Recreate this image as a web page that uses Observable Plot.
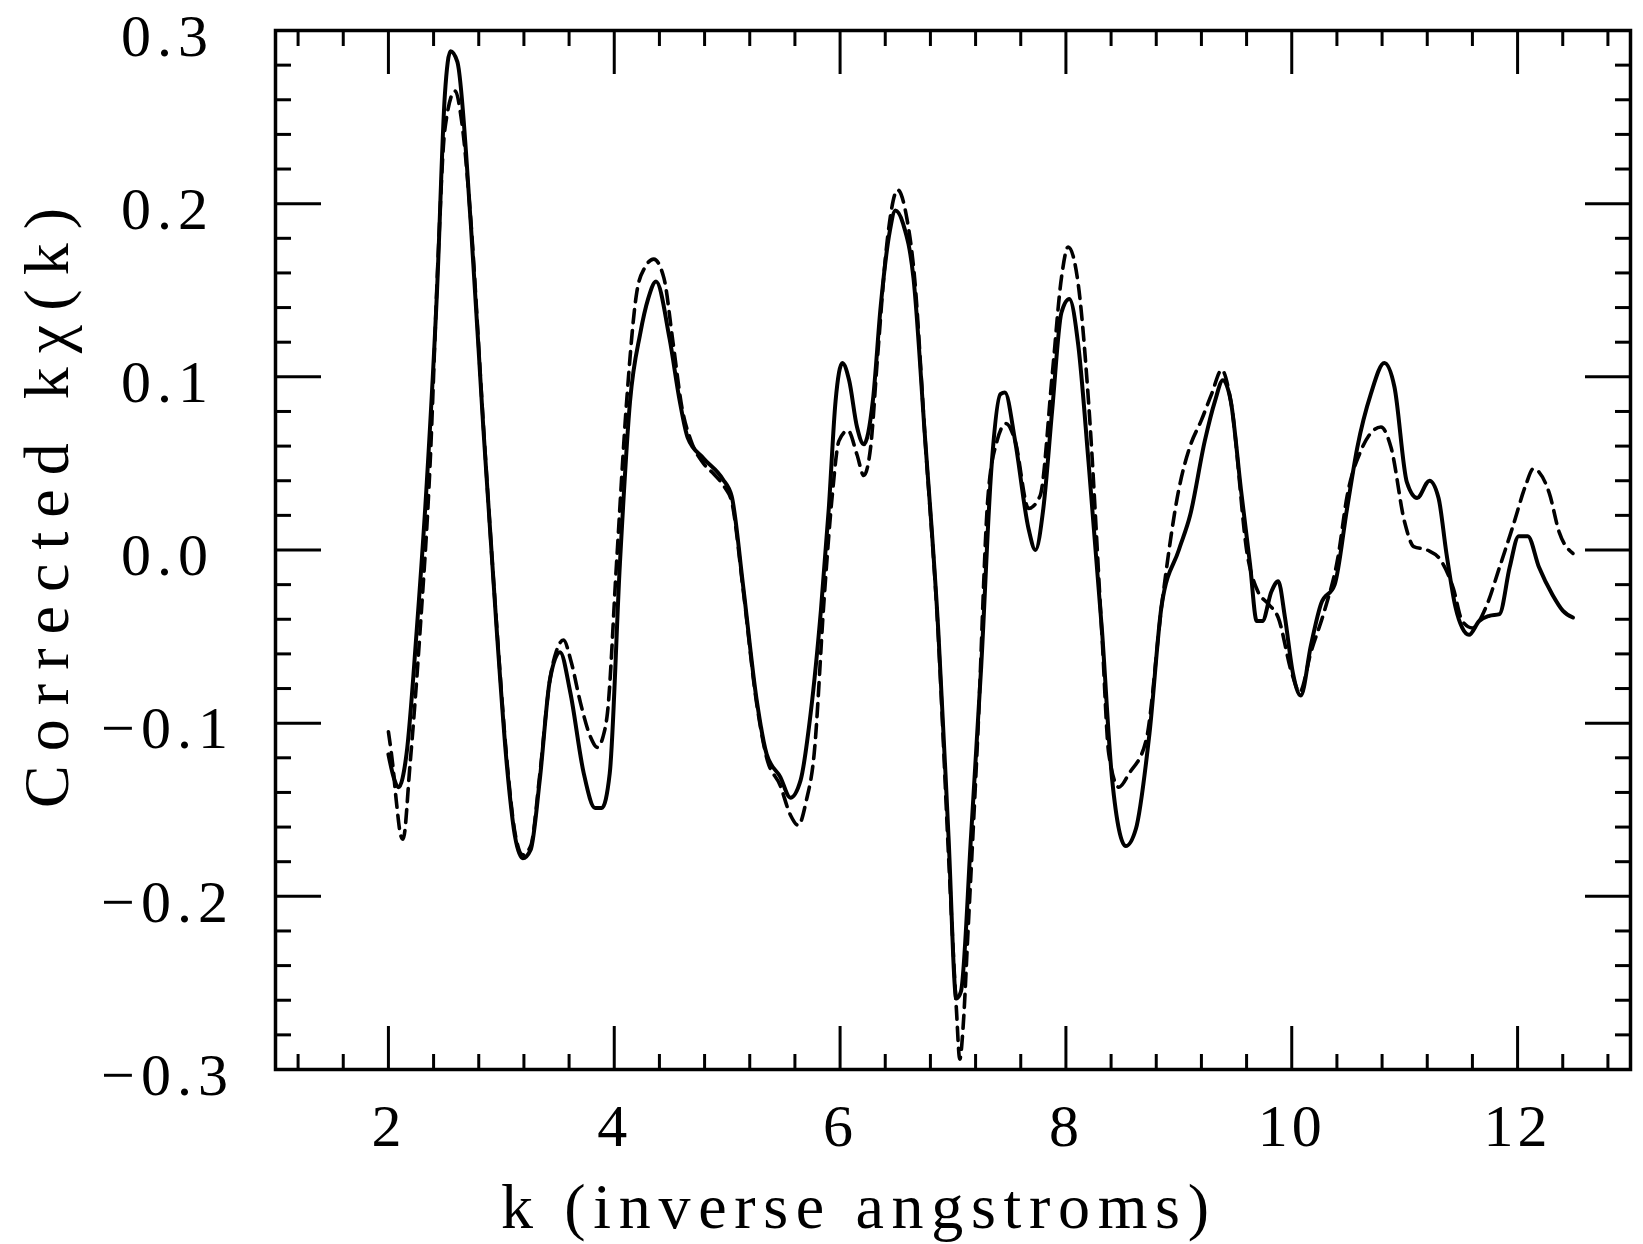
<!DOCTYPE html>
<html><head><meta charset="utf-8">
<script src="https://cdn.jsdelivr.net/npm/d3@7"></script>
<script src="https://cdn.jsdelivr.net/npm/@observablehq/plot@0.6"></script>
<style>body{margin:0;background:#fff} svg{display:block}</style>
</head><body><div id="chart"></div>
<script>
// ---- data ----
const kSolid = [2.00,2.05,2.09,2.16,2.25,2.34,2.43,2.50,2.55,2.61,2.73,2.84,2.96,3.05,3.12,3.19,3.26,3.34,3.43,3.52,3.61,3.73,3.83,3.89,3.96,4.05,4.14,4.23,4.30,4.37,4.49,4.58,4.65,4.79,4.96,5.04,5.14,5.26,5.35,5.47,5.56,5.65,5.74,5.83,5.90,5.96,6.02,6.08,6.15,6.21,6.29,6.36,6.44,6.49,6.56,6.65,6.75,6.87,6.96,7.03,7.07,7.16,7.25,7.34,7.42,7.46,7.55,7.67,7.73,7.80,7.88,7.96,8.03,8.11,8.20,8.32,8.41,8.53,8.62,8.74,8.85,9.00,9.10,9.23,9.32,9.39,9.46,9.55,9.63,9.69,9.74,9.82,9.88,9.94,10.01,10.08,10.17,10.26,10.38,10.49,10.58,10.70,10.82,10.91,11.02,11.11,11.22,11.30,11.37,11.45,11.51,11.57,11.66,11.75,11.84,11.93,12.01,12.09,12.19,12.31,12.40,12.49];
const chiSolid = [-0.118,-0.132,-0.137,-0.118,-0.047,0.039,0.149,0.263,0.288,0.282,0.188,0.071,-0.047,-0.125,-0.165,-0.178,-0.173,-0.133,-0.075,-0.059,-0.082,-0.129,-0.149,-0.149,-0.129,-0.008,0.086,0.125,0.145,0.155,0.122,0.086,0.065,0.053,0.041,0.031,-0.020,-0.086,-0.118,-0.131,-0.143,-0.133,-0.094,-0.035,0.024,0.086,0.108,0.098,0.071,0.061,0.086,0.141,0.184,0.196,0.188,0.157,0.067,-0.047,-0.165,-0.259,-0.255,-0.165,-0.067,0.047,0.090,0.091,0.063,0.012,0.000,0.024,0.082,0.137,0.145,0.118,0.051,-0.047,-0.133,-0.171,-0.161,-0.106,-0.031,0.000,0.020,0.063,0.086,0.098,0.086,0.035,-0.008,-0.041,-0.041,-0.024,-0.018,-0.039,-0.071,-0.084,-0.055,-0.031,-0.020,0.024,0.059,0.090,0.108,0.094,0.039,0.030,0.040,0.030,-0.002,-0.033,-0.045,-0.049,-0.041,-0.038,-0.037,-0.010,0.008,0.008,-0.010,-0.026,-0.035,-0.039];

const kDashed = [2.00,2.04,2.07,2.11,2.13,2.19,2.28,2.37,2.44,2.50,2.59,2.65,2.73,2.84,2.96,3.05,3.12,3.19,3.26,3.34,3.43,3.49,3.55,3.62,3.70,3.79,3.85,3.90,3.94,4.02,4.11,4.20,4.27,4.35,4.44,4.52,4.60,4.68,4.79,4.88,4.98,5.04,5.14,5.26,5.35,5.47,5.56,5.63,5.70,5.77,5.86,5.93,5.99,6.07,6.15,6.21,6.27,6.33,6.42,6.51,6.59,6.66,6.75,6.87,6.96,7.03,7.06,7.09,7.13,7.22,7.31,7.39,7.47,7.55,7.67,7.77,7.88,7.96,8.02,8.11,8.20,8.32,8.38,8.47,8.56,8.71,8.85,9.00,9.10,9.20,9.29,9.38,9.46,9.61,9.70,9.79,9.88,10.00,10.07,10.17,10.29,10.41,10.49,10.61,10.79,10.88,11.00,11.08,11.20,11.32,11.43,11.51,11.60,11.72,11.84,11.96,12.07,12.14,12.19,12.28,12.37,12.49];
const chiDashed = [-0.105,-0.125,-0.145,-0.165,-0.167,-0.125,-0.047,0.051,0.169,0.243,0.265,0.247,0.190,0.073,-0.045,-0.122,-0.163,-0.176,-0.171,-0.130,-0.075,-0.058,-0.052,-0.065,-0.088,-0.108,-0.114,-0.108,-0.094,-0.008,0.086,0.149,0.163,0.168,0.157,0.120,0.082,0.063,0.050,0.044,0.036,0.028,-0.022,-0.088,-0.120,-0.136,-0.153,-0.159,-0.145,-0.118,-0.027,0.031,0.063,0.069,0.055,0.043,0.059,0.110,0.180,0.208,0.192,0.157,0.067,-0.050,-0.176,-0.265,-0.294,-0.275,-0.224,-0.106,0.031,0.063,0.073,0.063,0.024,0.031,0.102,0.157,0.175,0.153,0.086,-0.050,-0.118,-0.137,-0.129,-0.110,-0.031,0.035,0.060,0.075,0.090,0.104,0.086,-0.004,-0.024,-0.031,-0.039,-0.071,-0.082,-0.059,-0.035,-0.004,0.031,0.057,0.071,0.059,0.016,0.002,0.000,-0.006,-0.022,-0.041,-0.045,-0.033,-0.010,0.014,0.037,0.047,0.045,0.033,0.010,-0.002];

const xMajor = [2, 4, 6, 8, 10, 12];
const xMinor = [1.2,1.6,2.4,2.8,3.2,3.6,4.4,4.8,5.2,5.6,6.4,6.8,7.2,7.6,8.4,8.8,9.2,9.6,10.4,10.8,11.2,11.6,12.4,12.8];
const yMajor = [-0.3,-0.2,-0.1,0,0.1,0.2,0.3];
const yMinor = [-0.28,-0.26,-0.24,-0.22,-0.18,-0.16,-0.14,-0.12,-0.08,-0.06,-0.04,-0.02,0.02,0.04,0.06,0.08,0.12,0.14,0.16,0.18,0.22,0.24,0.26,0.28];
const xLabel = "k (inverse angstroms)";
const yLabel = "Corrected kχ(k)";

// ---- build ----
const solid = kSolid.map((k, i) => ({k, v: chiSolid[i]}));
const dashed = kDashed.map((k, i) => ({k, v: chiDashed[i]}));
const font = "'Liberation Serif', 'DejaVu Serif', serif";
const fmtY = d => (d < 0 ? "\u2212" : "") + Math.abs(d).toFixed(1);
const tw = 3;

const chart = Plot.plot({
  width: 1643, height: 1244,
  marginLeft: 275, marginRight: 13, marginTop: 30, marginBottom: 175,
  x: {domain: [1, 13]},
  y: {domain: [-0.3, 0.3]},
  style: {fontFamily: font, background: "white", color: "black"},
  marks: [
    ...["bottom", "top"].flatMap(a => [
      Plot.axisX(xMajor, {anchor: a, tickSize: -43, fill: "none", strokeWidth: tw, label: null}),
      Plot.axisX(xMinor, {anchor: a, tickSize: -15, fill: "none", strokeWidth: tw, label: null})
    ]),
    ...["left", "right"].flatMap(a => [
      Plot.axisY(yMajor, {anchor: a, tickSize: -46, fill: "none", strokeWidth: tw, label: null}),
      Plot.axisY(yMinor, {anchor: a, tickSize: -16, fill: "none", strokeWidth: tw, label: null})
    ]),
    Plot.axisX(xMajor, {anchor: "bottom", tickSize: 0, tickPadding: 34, tickFormat: d => String(d), fontSize: 60, label: null, className: "xtl"}),
    Plot.axisY(yMajor, {anchor: "left", tickSize: 0, tickPadding: 108, textAnchor: "middle", tickFormat: fmtY, fontSize: 60, dy: 6, label: null, className: "ytl"}),
    Plot.frame({stroke: "black", strokeWidth: 3.5}),
    Plot.line(dashed, {x: "k", y: "v", stroke: "black", strokeWidth: 3.6, strokeDasharray: "13,8", curve: "monotone-x"}),
    Plot.line(solid, {x: "k", y: "v", stroke: "black", strokeWidth: 4, curve: "monotone-x"}),
    Plot.text([xLabel], {text: d => d, frameAnchor: "bottom", dx: -98, dy: 158, lineAnchor: "bottom", textAnchor: "middle", fontSize: 64, className: "xtitle"}),
    Plot.text([yLabel], {text: d => d, frameAnchor: "left", dx: -228, dy: -42, rotate: -90, lineAnchor: "middle", textAnchor: "middle", fontSize: 64, className: "ytitle"})
  ]
});
document.getElementById("chart").appendChild(chart);
const svg = d3.select(chart);
svg.selectAll(".xtitle text").attr("textLength", 708).attr("lengthAdjust", "spacing");
svg.selectAll(".ytitle text").attr("textLength", 600).attr("lengthAdjust", "spacing");
svg.selectAll(".xtl text").style("letter-spacing", "4px");
svg.selectAll(".ytl text").style("letter-spacing", "6px");
</script></body></html>
